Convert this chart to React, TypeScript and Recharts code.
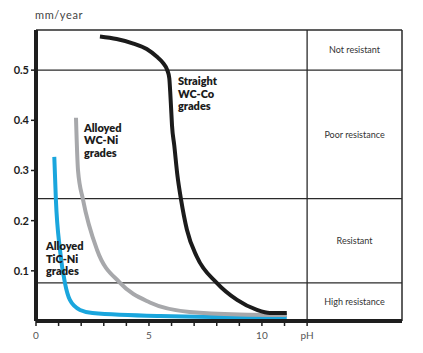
import React from 'react';
import { LineChart, Line, XAxis, YAxis, ReferenceLine, ReferenceArea, ReferenceDot } from 'recharts';

// corrosion rate (mm/year) vs pH
const wcCo = [
  { ph: 2.83, rate: 0.567 },
  { ph: 3.57, rate: 0.562 },
  { ph: 4.31, rate: 0.553 },
  { ph: 4.9, rate: 0.542 },
  { ph: 5.34, rate: 0.527 },
  { ph: 5.63, rate: 0.514 },
  { ph: 5.81, rate: 0.5 },
  { ph: 5.9, rate: 0.484 },
  { ph: 5.94, rate: 0.457 },
  { ph: 5.98, rate: 0.424 },
  { ph: 6.02, rate: 0.39 },
  { ph: 6.12, rate: 0.35 },
  { ph: 6.26, rate: 0.29 },
  { ph: 6.42, rate: 0.242 },
  { ph: 6.68, rate: 0.182 },
  { ph: 7.12, rate: 0.128 },
  { ph: 8.0, rate: 0.076 },
  { ph: 8.9, rate: 0.042 },
  { ph: 9.78, rate: 0.022 },
  { ph: 10.35, rate: 0.016 },
  { ph: 11.1, rate: 0.016 },
];

const wcNi = [
  { ph: 1.77, rate: 0.405 },
  { ph: 1.86, rate: 0.3 },
  { ph: 2.08, rate: 0.242 },
  { ph: 2.7, rate: 0.142 },
  { ph: 3.72, rate: 0.076 },
  { ph: 5.04, rate: 0.037 },
  { ph: 6.8, rate: 0.018 },
  { ph: 9.0, rate: 0.013 },
  { ph: 11.1, rate: 0.012 },
];

const ticNi = [
  { ph: 0.81, rate: 0.327 },
  { ph: 0.88, rate: 0.242 },
  { ph: 1.06, rate: 0.142 },
  { ph: 1.28, rate: 0.076 },
  { ph: 1.5, rate: 0.042 },
  { ph: 1.95, rate: 0.022 },
  { ph: 2.5, rate: 0.016 },
  { ph: 5.5, rate: 0.01 },
  { ph: 11.1, rate: 0.007 },
];

const yTicks = [0.1, 0.2, 0.3, 0.4, 0.5];
const xTicks = [0, 1, 2, 3, 4, 5, 6, 7, 8, 9, 10, 11, 12];
const xTickLabels: Record<number, string> = { 0: '0', 5: '5', 10: '10', 12: 'pH' };

const bandEdges = [0, 0.076, 0.244, 0.5, 0.58];
const bandNames = ['High resistance', 'Resistant', 'Poor resistance', 'Not resistant'];

const curveLabels = [
  { ph: 6.28, rate: 0.47, lines: ['Straight', 'WC-Co', 'grades'] },
  { ph: 2.12, rate: 0.377, lines: ['Alloyed', 'WC-Ni', 'grades'] },
  { ph: 0.44, rate: 0.141, lines: ['Alloyed', 'TiC-Ni', 'grades'] },
];

const FONT = 'Lato, "Open Sans", sans-serif';

const MultiLine = ({ viewBox, lines }: any) => {
  const x = viewBox?.x ?? 0;
  const y = viewBox?.y ?? 0;
  return (
    <text x={x} y={y} fontFamily={FONT} fontWeight={800} fontSize={11} fill="#1c1c1c">
      {lines.map((l: string, i: number) => (
        <tspan key={i} x={x} dy={i === 0 ? 0 : 12.5}>{l}</tspan>
      ))}
    </text>
  );
};

export default function App() {
  return (
    <div style={{ position: 'relative', width: 423, height: 353, background: '#fff' }}>
      <style>{`body{margin:0}`}</style>
      <div style={{ position: 'absolute', left: 35, top: 8, fontFamily: FONT, fontSize: 11, color: '#444', letterSpacing: 0.6 }}>
        mm/year
      </div>
      <LineChart width={423} height={353} data={wcCo} margin={{ top: 30, right: 21, left: 0, bottom: 0 }}>
        <XAxis
          type="number"
          dataKey="ph"
          domain={[0, 16.2]}
          ticks={xTicks}
          interval={0}
          allowDataOverflow
          height={32}
          tickSize={5}
          tickMargin={6}
          tickFormatter={(v: number) => xTickLabels[v] ?? ''}
          axisLine={{ stroke: '#1e1e1e', strokeWidth: 4 }}
          tickLine={{ stroke: '#1e1e1e', strokeWidth: 1.5 }}
          tick={{ fill: '#555', fontSize: 10, fontFamily: FONT }}
        />
        <YAxis
          type="number"
          dataKey="rate"
          domain={[0, 0.58]}
          ticks={yTicks}
          interval={0}
          allowDataOverflow
          width={36}
          tickSize={5}
          tickFormatter={(v: number) => v.toFixed(1)}
          axisLine={{ stroke: '#1e1e1e', strokeWidth: 4 }}
          tickLine={{ stroke: '#1e1e1e', strokeWidth: 1.5 }}
          tick={{ fill: '#1c1c1c', fontSize: 11, fontWeight: 700, fontFamily: FONT }}
        />
        {bandEdges.slice(1).map((b) => (
          <ReferenceLine key={b} y={b} stroke="#2a2a2a" strokeWidth={1.3} />
        ))}
        <ReferenceLine x={12} stroke="#2a2a2a" strokeWidth={1.3} />
        <ReferenceLine x={16.2} stroke="#2a2a2a" strokeWidth={1.5} />
        {bandNames.map((name, i) => (
          <ReferenceArea
            key={name}
            x1={12}
            x2={16.2}
            y1={bandEdges[i]}
            y2={bandEdges[i + 1]}
            fill="none"
            stroke="none"
            label={{ value: name, position: 'center', fill: '#333', fontSize: 9, fontFamily: FONT }}
          />
        ))}
        <Line data={ticNi} dataKey="rate" type="monotone" stroke="#1aa6dd" strokeWidth={4} dot={false} isAnimationActive={false} />
        <Line data={wcNi} dataKey="rate" type="monotone" stroke="#a7a8ab" strokeWidth={4} dot={false} isAnimationActive={false} />
        <Line data={wcCo} dataKey="rate" type="monotone" stroke="#1b1b1b" strokeWidth={4} dot={false} isAnimationActive={false} />
        {curveLabels.map((c) => (
          <ReferenceDot
            key={c.lines.join('-') + c.ph}
            x={c.ph}
            y={c.rate}
            r={0}
            fill="none"
            stroke="none"
            label={<MultiLine lines={c.lines} />}
          />
        ))}
      </LineChart>
    </div>
  );
}
